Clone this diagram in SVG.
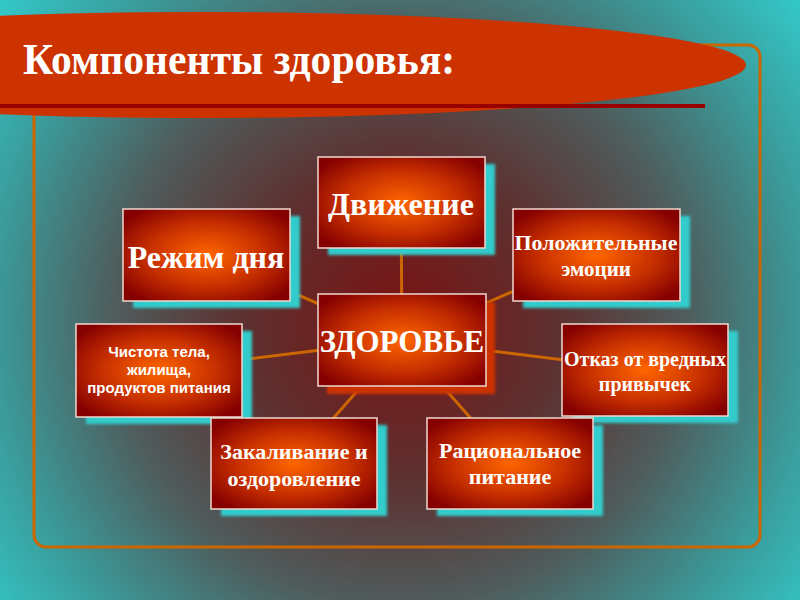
<svg xmlns="http://www.w3.org/2000/svg" width="800" height="600" viewBox="0 0 800 600">
<defs>
<radialGradient id="bg" gradientUnits="userSpaceOnUse" cx="400" cy="320" r="520">
<stop offset="0" stop-color="#7a1212"/>
<stop offset="0.3" stop-color="#5e3030"/>
<stop offset="0.55" stop-color="#4f5c5c"/>
<stop offset="0.78" stop-color="#3b9a9a"/>
<stop offset="1" stop-color="#33cccc"/>
</radialGradient>
<radialGradient id="nodeFill" cx="0.5" cy="0.5" r="0.62">
<stop offset="0" stop-color="#ff6600"/>
<stop offset="0.55" stop-color="#c83000"/>
<stop offset="1" stop-color="#850000"/>
</radialGradient>
<filter id="blur" x="-10%" y="-10%" width="120%" height="120%">
<feGaussianBlur stdDeviation="1.5"/>
</filter>
</defs>
<style>
.box{fill:url(#nodeFill);stroke:#f0d8d0;stroke-width:1.5}
.sh{fill:#33cccc;filter:url(#blur)}
.shc{fill:#cc3300;filter:url(#blur)}
.conn{stroke:#cc6600;stroke-width:3;fill:none}
.t{fill:#ffffff;font-family:"Liberation Serif","Times New Roman",serif;font-weight:bold;text-anchor:middle}
.ts{fill:#ffffff;font-family:"Liberation Sans",Arial,sans-serif;font-weight:bold;text-anchor:middle;font-size:15px}
</style>
<rect x="0" y="0" width="800" height="600" fill="url(#bg)"/>
<rect x="34" y="45" width="726" height="502" rx="12" ry="12" fill="none" stroke="#cc6600" stroke-width="3"/>
<g id="title">
<ellipse cx="200" cy="65" rx="546" ry="53" fill="#cc3300"/>
<line x1="0" y1="106" x2="705" y2="106" stroke="#990000" stroke-width="4"/>
<text x="23" y="74" fill="#ffffff" font-family="'Liberation Serif','Times New Roman',serif" font-weight="bold" font-size="45" textLength="432" lengthAdjust="spacingAndGlyphs">Компоненты здоровья:</text>
</g>
<g id="connectors">
<line class="conn" x1="402" y1="340" x2="401" y2="202"/>
<line class="conn" x1="402" y1="340" x2="206" y2="255"/>
<line class="conn" x1="402" y1="340" x2="596" y2="255"/>
<line class="conn" x1="402" y1="340" x2="159" y2="370"/>
<line class="conn" x1="402" y1="340" x2="645" y2="370"/>
<line class="conn" x1="402" y1="340" x2="294" y2="463"/>
<line class="conn" x1="402" y1="340" x2="510" y2="463"/>
</g>
<g id="node-dvizhenie">
<rect class="sh" x="328" y="164" width="167" height="91"/>
<rect class="box" x="318" y="157" width="167" height="91"/>
<text class="t" x="401" y="215" font-size="32">Движение</text>
</g>
<g id="node-rezhim">
<rect class="sh" x="133" y="216" width="167" height="92"/>
<rect class="box" x="123" y="209" width="167" height="92"/>
<text class="t" x="206" y="268" font-size="32">Режим дня</text>
</g>
<g id="node-polozhitelnye">
<rect class="sh" x="523" y="216" width="167" height="92"/>
<rect class="box" x="513" y="209" width="167" height="92"/>
<text class="t" x="596" y="250" font-size="21" textLength="163" lengthAdjust="spacingAndGlyphs">Положительные</text>
<text class="t" x="596" y="276" font-size="21">эмоции</text>
</g>
<g id="node-chistota">
<rect class="sh" x="86" y="331" width="166" height="93"/>
<rect class="box" x="76" y="324" width="166" height="93"/>
<text class="ts" x="159" y="357">Чистота тела,</text>
<text class="ts" x="159" y="375">жилища,</text>
<text class="ts" x="159" y="393">продуктов питания</text>
</g>
<g id="node-otkaz">
<rect class="sh" x="572" y="331" width="166" height="92"/>
<rect class="box" x="562" y="324" width="166" height="92"/>
<text class="t" x="645" y="366" font-size="20">Отказ от вредных</text>
<text class="t" x="645" y="391" font-size="20">привычек</text>
</g>
<g id="node-zakalivanie">
<rect class="sh" x="221" y="425" width="166" height="91"/>
<rect class="box" x="211" y="418" width="166" height="91"/>
<text class="t" x="294" y="459" font-size="22">Закаливание и</text>
<text class="t" x="294" y="486" font-size="22">оздоровление</text>
</g>
<g id="node-racionalnoe">
<rect class="sh" x="437" y="425" width="166" height="91"/>
<rect class="box" x="427" y="418" width="166" height="91"/>
<text class="t" x="510" y="458" font-size="22">Рациональное</text>
<text class="t" x="510" y="484" font-size="22">питание</text>
</g>
<g id="node-zdorovie">
<rect class="shc" x="327" y="302" width="168" height="92"/>
<rect class="box" x="318" y="294" width="168" height="92"/>
<text class="t" x="402" y="352" font-size="31">ЗДОРОВЬЕ</text>
</g>
</svg>
